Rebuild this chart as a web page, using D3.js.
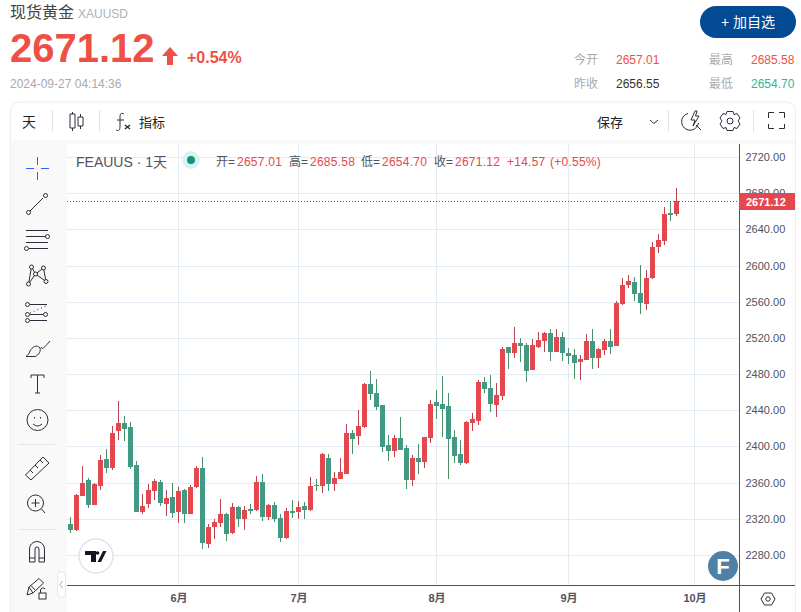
<!DOCTYPE html>
<html>
<head>
<meta charset="utf-8">
<script src="https://cdn.jsdelivr.net/npm/d3@7"></script>
<style>
  html, body { margin: 0; padding: 0; background: #fff; overflow: hidden; }
  svg { display: block; }
  text { font-family: "Liberation Sans", "Noto Sans CJK SC", sans-serif; }
</style>
</head>
<body>
<script>
// Daily candles, 102 sessions
var opens = [2314.6,2308.0,2345.5,2363.2,2335.6,2356.5,2386.3,2376.4,2417.2,2426.0,2421.6,2379.7,2327.9,2336.7,2351.0,2361.0,2336.7,2344.4,2327.9,2352.1,2325.7,2355.4,2376.4,2292.6,2311.3,2315.7,2325.7,
  2303.9,2332.6,2319.3,2330.4,2329.3,2361.2,2321.5,2334.8,2320.4,2298.4,2328.2,2327.1,2333.7,2329.3,2357.9,2356.8,2387.7,2359.0,2363.5,2370.1,2415.3,2412.0,2421.9,2469.3,2459.4,2446.2,2402.1,
  2394.8,2409.3,2398.1,2362.6,2387.0,2382.6,2409.3,2449.3,2447.0,2444.8,2410.4,2391.5,2381.5,2425.9,2428.1,2471.5,2464.8,2445.9,2455.9,2510.4,2503.7,2514.8,2512.6,2484.8,2510.4,2517.1,
  2524.9,2503.9,2521.5,2502.8,2500.6,2492.9,2495.1,2517.1,2497.3,2506.1,2517.1,2511.6,2557.9,2578.9,2582.2,2570.1,2557.9,2586.6,2620.8,2627.4,2658.3,2657.01];
var highs = [2322.4,2347.7,2378.6,2365.4,2359.9,2390.7,2397.4,2422.7,2450.3,2433.8,2427.1,2384.1,2347.7,2358.8,2364.3,2363.2,2352.1,2359.9,2355.4,2353.2,2357.6,2378.6,2388.5,2314.6,2320.1,2342.2,2326.8,
  2337.0,2333.7,2333.7,2335.9,2366.8,2369.0,2335.9,2338.1,2324.9,2331.5,2340.3,2339.2,2338.1,2365.7,2363.5,2393.2,2392.1,2372.3,2387.7,2425.2,2418.6,2440.7,2470.4,2483.7,2474.1,2446.2,2413.1,
  2412.6,2432.6,2401.5,2390.4,2402.6,2410.4,2451.5,2462.6,2478.1,2459.3,2418.1,2407.0,2428.1,2437.0,2473.7,2477.0,2479.3,2470.4,2510.4,2510.4,2532.6,2520.4,2514.8,2519.3,2527.0,2527.0,
  2529.3,2529.3,2527.0,2508.3,2507.2,2500.6,2523.8,2530.4,2508.3,2519.3,2529.3,2561.2,2586.6,2589.9,2587.7,2601.0,2595.4,2626.3,2635.1,2664.9,2670.4,2685.58];
var lows = [2304.7,2306.9,2345.5,2332.3,2335.6,2352.1,2370.9,2374.2,2407.3,2406.2,2375.3,2327.9,2325.7,2332.3,2341.1,2334.5,2323.5,2321.3,2315.7,2315.7,2325.7,2354.3,2287.1,2288.2,2298.1,2311.3,2295.9,
  2302.8,2310.5,2307.2,2324.9,2328.2,2317.1,2318.2,2316.0,2294.0,2297.3,2320.4,2319.3,2319.3,2328.2,2351.3,2348.0,2351.3,2351.3,2363.5,2370.1,2392.1,2402.1,2420.8,2451.7,2440.7,2394.3,2384.4,
  2388.1,2395.9,2352.6,2355.9,2369.3,2375.9,2403.7,2430.4,2410.4,2363.7,2381.5,2379.3,2380.4,2417.0,2423.7,2459.3,2438.1,2432.6,2451.5,2485.9,2498.1,2493.7,2471.5,2484.8,2509.3,2503.9,
  2494.0,2503.9,2495.0,2490.7,2474.1,2473.0,2495.1,2485.1,2486.2,2500.6,2501.7,2511.6,2556.8,2575.6,2561.2,2546.9,2551.3,2585.5,2614.2,2623.0,2649.5,2654.70];
var closes = [2308.0,2346.6,2359.9,2335.6,2358.8,2385.2,2376.4,2415.0,2426.0,2419.4,2377.5,2327.9,2334.5,2352.1,2362.1,2337.8,2343.3,2326.8,2351.0,2325.7,2355.4,2376.4,2293.7,2311.3,2316.8,2325.7,2303.6,
  2332.6,2319.3,2329.3,2328.2,2361.2,2321.5,2334.8,2319.3,2298.4,2328.2,2326.0,2332.6,2329.3,2356.8,2356.8,2392.1,2359.0,2364.6,2372.3,2415.3,2408.7,2423.0,2469.3,2458.3,2444.0,2399.9,2395.4,
  2409.3,2395.9,2362.6,2387.0,2382.6,2410.4,2447.0,2444.8,2441.5,2408.1,2389.3,2381.5,2427.0,2430.4,2471.5,2463.7,2447.0,2457.0,2508.1,2503.7,2514.8,2511.5,2483.7,2512.6,2518.1,2524.9,
  2503.9,2521.5,2502.8,2499.5,2491.8,2496.2,2517.1,2497.3,2507.2,2517.1,2510.5,2559.0,2578.9,2583.3,2569.0,2559.0,2586.6,2620.8,2628.5,2657.2,2656.1,2671.12];

var priceTicks = [2280,2320,2360,2400,2440,2480,2520,2560,2600,2640,2680,2720];
var monthTicks = [18,38,61,83,104];
var monthLabels = ["6月","7月","8月","9月","10月"];
var lastClose = 2671.12;

var upColor = "#e5474f", downColor = "#429a84";
var upWick = "#bd4250", downWick = "#4a9068";
var labelColor = "#50535e";

var svg = d3.select("body").append("svg")
    .attr("width", 801)
    .attr("height", 612);

function label(x, y, str, size, color, extra) {
  var t = svg.append("text").attr("x", x).attr("y", y)
      .style("font-size", size + "px").attr("fill", color).text(str);
  if (extra) extra(t);
  return t;
}
function bold(t) { t.style("font-weight", "bold"); }

// Quote header
label(10, 18, "现货黄金", 16, "#444");
label(78, 18, "XAUUSD", 12, "#aeb1b8");
label(10, 62, "2671.12", 40, "#ef5046", bold);
svg.append("path").attr("d", "M170 47 L178 56 L173 56 L173 65 L167 65 L167 56 L162 56 Z").attr("fill", "#ef5046");
label(187, 63, "+0.54%", 16, "#ef5046", bold);
label(10, 88, "2024-09-27 04:14:36", 12, "#aaaaaa");

svg.append("rect").attr("x", 700).attr("y", 6).attr("width", 96).attr("height", 32).attr("rx", 16).attr("fill", "#024a94");
label(748, 27, "+ 加自选", 14, "#fff", function(t) { t.attr("text-anchor", "middle"); });

label(574, 64, "今开", 12, "#aaaaaa");
label(616, 64, "2657.01", 12, "#ef5046");
label(709, 64, "最高", 12, "#aaaaaa");
label(751, 64, "2685.58", 12, "#ef5046");
label(574, 88, "昨收", 12, "#aaaaaa");
label(616, 88, "2656.55", 12, "#333");
label(709, 88, "最低", 12, "#aaaaaa");
label(751, 88, "2654.70", 12, "#2cb89a");

// Panel and toolbars
svg.append("path").attr("d", "M10.5 612 V111 a9 9 0 0 1 9 -9 H786 a9 9 0 0 1 9.5 9 V612").attr("fill", "#fff").attr("stroke", "#eceef1");
svg.append("rect").attr("x", 11).attr("y", 140).attr("width", 784).attr("height", 4).attr("fill", "#f8f8f9");
svg.append("rect").attr("x", 11).attr("y", 140).attr("width", 56).attr("height", 472).attr("fill", "#f9f9fa");

[52.5, 99.5, 668.5, 753.5].forEach(function(sx) {
  svg.append("line").attr("x1", sx).attr("x2", sx).attr("y1", 110).attr("y2", 132).attr("stroke", "#e0e3eb");
});
label(22, 127, "天", 14, "#222");
label(139, 127, "指标", 13, "#222");
label(597, 127, "保存", 13, "#222");

var iconG = svg.append("g").attr("fill", "none").attr("stroke", "#2a2e39").attr("stroke-width", 1);
// candle style icon
iconG.append("path").attr("d", "M72.5 112 V114 M72.5 128 V131 M70 114 H75 V128 H70 Z M80.5 114 V117 M80.5 126 V129 M78 117 H83 V126 H78 Z");
// fx icon
iconG.append("path").attr("d", "M124 114 C120 112 120 115 120 118 V127 C120 131 118 131 116 130 M117 120 H124");
iconG.append("path").attr("d", "M125 125 L130 129 M130 125 L125 129").attr("stroke-width", 1.5);
iconG.append("path").attr("d", "M650 120 L654 123.5 L658 120");
// alert search, gear, fullscreen
iconG.append("path").attr("d", "M688 113.5 A8.5 8.5 0 1 0 698.5 123 M696 125 L701 130 M695 111 L691 120 H695 L693 126 L699 116 H695.5 L697 111 Z");
iconG.append("circle").attr("cx", 730).attr("cy", 121).attr("r", 3);
iconG.append("path").attr("d", "M727 111.5 H733 L734 114.5 L737 113.5 L740 118 L738 121 L740 124 L737 128.5 L734 127.5 L733 130.5 H727 L726 127.5 L723 128.5 L720 124 L722 121 L720 118 L723 113.5 L726 114.5 Z");
iconG.append("path").attr("d", "M768.5 118 V112.5 H774 M779 112.5 H784.5 V118 M784.5 124 V128.5 H779 M774 128.5 H768.5 V124");

// Scales, with the index of each session on x
var x = d3.scaleLinear().domain([0, 104]).range([70.5, 694.5]);
var y = d3.scaleLinear().domain([2280, 2720]).range([555, 157]);

var pane = svg.append("g");

// Grid
pane.selectAll(".hgrid").data(priceTicks).enter().append("line")
    .attr("class", "hgrid")
    .attr("x1", 67).attr("x2", 739)
    .attr("y1", function(d) { return Math.round(y(d)) + 0.5; })
    .attr("y2", function(d) { return Math.round(y(d)) + 0.5; })
    .attr("stroke", "#e3ecf4");
pane.selectAll(".vgrid").data(monthTicks).enter().append("line")
    .attr("class", "vgrid")
    .attr("x1", function(d) { return x(d); }).attr("x2", function(d) { return x(d); })
    .attr("y1", 144).attr("y2", 585)
    .attr("stroke", "#e3ecf4");

// Candles
var candles = pane.selectAll(".candle").data(d3.range(opens.length)).enter().append("g")
    .attr("class", "candle")
    .attr("shape-rendering", "crispEdges");
candles.append("rect")
    .attr("x", function(i) { return x(i) - 0.5; })
    .attr("width", 1)
    .attr("y", function(i) { return y(highs[i]); })
    .attr("height", function(i) { return y(lows[i]) - y(highs[i]); })
    .attr("fill", function(i) { return closes[i] >= opens[i] ? upWick : downWick; });
candles.append("rect")
    .attr("x", function(i) { return x(i) - 2.5; })
    .attr("width", 5)
    .attr("y", function(i) { return y(Math.max(opens[i], closes[i])); })
    .attr("height", function(i) { return Math.max(1, Math.abs(y(opens[i]) - y(closes[i]))); })
    .attr("fill", function(i) { return closes[i] >= opens[i] ? upColor : downColor; });

// Last price line
pane.append("line")
    .attr("x1", 67).attr("x2", 739)
    .attr("y1", Math.round(y(lastClose)) + 0.5).attr("y2", Math.round(y(lastClose)) + 0.5)
    .attr("stroke", "#a8414d").attr("stroke-dasharray", "1 2")
    .attr("shape-rendering", "crispEdges");

// Axes
var yAxis = svg.append("g").attr("transform", "translate(739.5,0)")
    .call(d3.axisRight(y).tickValues(priceTicks).tickSize(0).tickPadding(6).tickFormat(d3.format(".2f")));
yAxis.select(".domain").remove();
yAxis.selectAll("text").style("font-size", "11px").attr("fill", labelColor).style("font-family", null);

var xAxis = svg.append("g").attr("transform", "translate(0,585.5)")
    .call(d3.axisBottom(x).tickValues(monthTicks).tickSize(0).tickPadding(9)
      .tickFormat(function(d, i) { return monthLabels[i]; }));
xAxis.select(".domain").remove();
xAxis.selectAll("text").style("font-size", "11px").style("font-weight", "bold").attr("fill", labelColor).style("font-family", null);

svg.append("line").attr("x1", 739.5).attr("x2", 739.5).attr("y1", 144).attr("y2", 612).attr("stroke", labelColor);
svg.append("line").attr("x1", 67).attr("x2", 795).attr("y1", 585.5).attr("y2", 585.5).attr("stroke", labelColor);

// Price tag
svg.append("rect").attr("x", 739).attr("y", 193).attr("width", 56).attr("height", 17).attr("fill", upColor);
label(746, 205.5, d3.format(".2f")(lastClose), 11, "#fff", bold);

// Legend
label(76, 167, "FEAUUS · 1天", 14, labelColor);
svg.append("circle").attr("cx", 191).attr("cy", 160).attr("r", 9).attr("fill", "#dff1ee");
svg.append("circle").attr("cx", 191).attr("cy", 160).attr("r", 4).attr("fill", "#089981");
[["开=", 216, 2657.01], ["高=", 289, 2685.58], ["低=", 361, 2654.70], ["收=", 434, 2671.12]].forEach(function(r) {
  label(r[1], 166, r[0], 12, labelColor);
  label(r[1] + 21, 166, d3.format(".2f")(r[2]), 12, upColor, function(t) { t.style("letter-spacing", "0.25px"); });
});
label(507, 166, "+14.57", 12, upColor, function(t) { t.style("letter-spacing", "0.25px"); });
label(550, 166, "(+0.55%)", 12, upColor, function(t) { t.style("letter-spacing", "0.25px"); });

// Drawing tools on the left
var tools = svg.append("g").attr("fill", "none").attr("stroke", "#2a2e39").attr("stroke-width", 1);
tools.append("path").attr("d", "M26 168.5 H34 M41 168.5 H49 M37.5 157 V165 M37.5 172 V180").attr("stroke", "#2962ff");
tools.append("path").attr("d", "M30 211 L43 198");
tools.append("circle").attr("cx", 28.5).attr("cy", 212.5).attr("r", 2);
tools.append("circle").attr("cx", 45.5).attr("cy", 195.5).attr("r", 2);
tools.append("path").attr("d", "M26 230.5 H48 M26 236.5 H46 M26 242.5 H48 M29 248.5 H48");
tools.append("circle").attr("cx", 47.5).attr("cy", 236.5).attr("r", 2);
tools.append("circle").attr("cx", 26.5).attr("cy", 248.5).attr("r", 2);
tools.append("path").attr("d", "M28.5 284 L31.5 267 L35.5 274 L43.5 268 L46 281.5 L35.5 274 L28.5 284");
[[28.5,284],[31.5,267],[35.5,274],[43.5,268],[46,281.5]].forEach(function(p) {
  tools.append("circle").attr("cx", p[0]).attr("cy", p[1]).attr("r", 2).attr("fill", "#f9f9fa");
});
tools.append("path").attr("d", "M30 304.5 H47 M30 314.5 H43 M30 320.5 H47");
tools.append("path").attr("d", "M30 313 L46 306").attr("stroke-dasharray", "1 3");
[[27.5,304.5],[27.5,314.5],[45.5,314.5],[27.5,320.5]].forEach(function(p) {
  tools.append("circle").attr("cx", p[0]).attr("cy", p[1]).attr("r", 2);
});
tools.append("path").attr("d", "M26 356.5 H35 C39 355 41 351 40 348 C37 344 32 347 30 351 C29 354 28 355 26 356.5 Z M41 347 C42 350 44 348 50 341");
tools.append("path").attr("d", "M31 378 V375 H44 V378 M37.5 375 V393 M35 393 H40");
tools.append("circle").attr("cx", 37.5).attr("cy", 420).attr("r", 10.5);
tools.append("path").attr("d", "M33 424 Q37.5 428 42 424 M34.5 417 V418.5 M40.5 417 V418.5");
tools.append("path").attr("d", "M25.5 475 L43 457 L49 463 L31 480 Z M30 470 L33 473 M35 465 L38 468 M40 460 L43 463");
tools.append("circle").attr("cx", 35.5).attr("cy", 503).attr("r", 8);
tools.append("path").attr("d", "M41.5 509 L45 513 M35.5 499 V507 M31.5 503 H39.5");
tools.append("path").attr("d", "M29.5 562 V549 A7.5 7.5 0 0 1 44.5 549 V562 H39 V549 A2 2 0 0 0 35 549 V562 Z M29.5 558 H35 M39 558 H44.5");
tools.append("path").attr("d", "M27 595 L29 587 L39 578.5 L43.5 583 L33 593 Z M29 587 L33 593 M31 585.5 L35 590");
tools.append("rect").attr("x", 39).attr("y", 593).attr("width", 7).attr("height", 6);
tools.append("path").attr("d", "M40.5 593 V590 A2.5 2.5 0 0 1 45 589");
[444.5, 529.5].forEach(function(sy) {
  svg.append("line").attr("x1", 19).attr("x2", 55).attr("y1", sy).attr("y2", sy).attr("stroke", "#e0e3eb");
});
svg.append("rect").attr("x", 57.5).attr("y", 571.5).attr("width", 8).attr("height", 26).attr("rx", 4).attr("fill", "#fff").attr("stroke", "#e6e6ea");
svg.append("path").attr("d", "M62.5 581 L60 584.5 L62.5 588").attr("fill", "none").attr("stroke", "#aaa");

// TradingView badge
svg.append("circle").attr("cx", 96).attr("cy", 556).attr("r", 17).attr("fill", "#fff").attr("stroke", "#e0e3eb").attr("stroke-width", 1.5);
svg.append("path").attr("d", "M85 551 H96 V562 H91 V555 H85 Z M103 551 H106.5 L101 562 H97.5 Z").attr("fill", "#131722");
svg.append("circle").attr("cx", 97.5).attr("cy", 553).attr("r", 1.8).attr("fill", "#131722");

// F badge
svg.append("circle").attr("cx", 723).attr("cy", 566).attr("r", 15).attr("fill", "#4f81a6");
label(723, 574, "F", 22, "#fff", function(t) { t.style("font-weight", "bold").attr("text-anchor", "middle"); });

// Axis settings button
svg.append("path").attr("d", "M761 599 L764.5 593 H771.5 L775 599 L771.5 605 H764.5 Z").attr("fill", "none").attr("stroke", "#2a2e39");
svg.append("circle").attr("cx", 768).attr("cy", 599).attr("r", 2.2).attr("fill", "none").attr("stroke", "#2a2e39");
</script>
</body>
</html>
